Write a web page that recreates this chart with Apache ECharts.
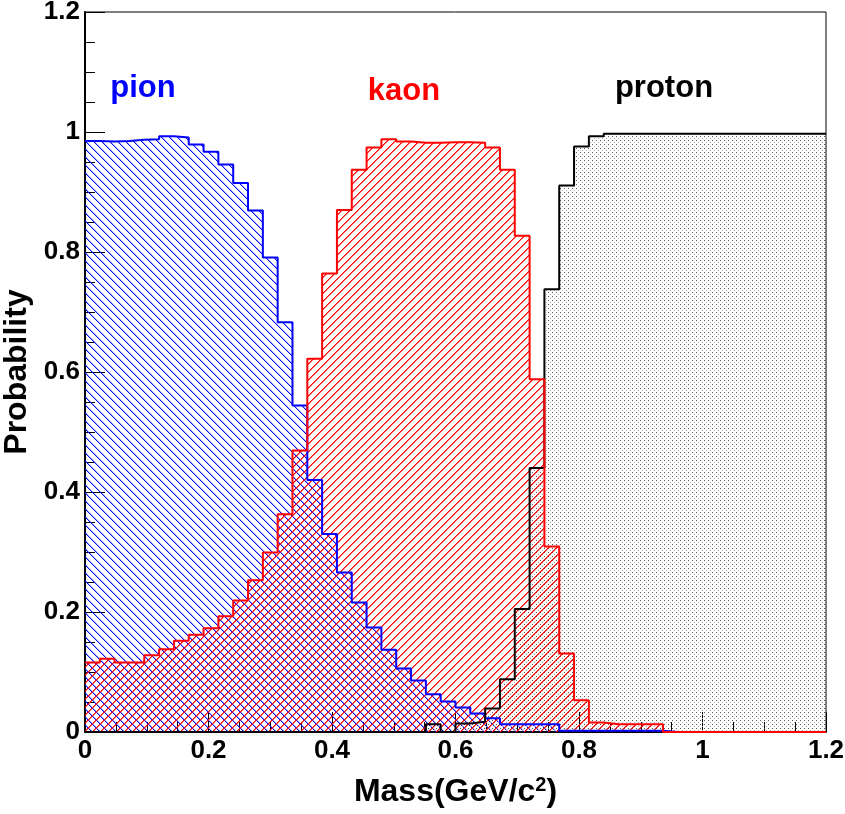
<!DOCTYPE html>
<html>
<head>
<meta charset="utf-8">
<script src="https://cdn.jsdelivr.net/npm/echarts@6/dist/echarts.min.js"></script>
<style>
html,body{margin:0;padding:0;background:#fff;}
#chart{width:845px;height:814px;}
</style>
</head>
<body>
<div id="chart"></div>
<script>
// ---- data ----
const binWidth = 0.024;
const binStarts = [0,0.024,0.048,0.072,0.096,0.12,0.144,0.168,0.192,0.216,0.24,0.264,0.288,0.312,0.336,0.36,0.384,0.408,0.432,0.456,0.48,0.504,0.528,0.552,0.576,0.6,0.624,0.648,0.672,0.696,0.72,0.744,0.768,0.792,0.816,0.84,0.864,0.888,0.912,0.936,0.96,0.984,1.008,1.032,1.056,1.08,1.104,1.128,1.152,1.176];
const pion = [0.985,0.984,0.985,0.987,0.988,0.993,0.991,0.979,0.967,0.946,0.915,0.869,0.791,0.683,0.544,0.420,0.330,0.266,0.216,0.174,0.137,0.106,0.086,0.063,0.051,0.041,0.031,0.023,0.013,0.013,0.013,0.013,0.002,0.002,0.002,0.002,0.002,0.002,0.002,0,0,0,0,0,0,0,0,0,0,0];
const kaon = [0.116,0.122,0.116,0.116,0.128,0.138,0.152,0.162,0.173,0.193,0.219,0.253,0.299,0.363,0.469,0.622,0.764,0.870,0.937,0.974,0.988,0.984,0.982,0.982,0.983,0.983,0.982,0.974,0.937,0.827,0.588,0.309,0.131,0.053,0.016,0.013,0.013,0.013,0.013,0,0,0,0,0,0,0,0,0,0,0];
const proton = [0,0,0,0,0,0,0,0,0,0,0,0,0,0,0,0,0,0,0,0,0,0,0,0.013,0,0.014,0.017,0.039,0.088,0.205,0.440,0.738,0.911,0.976,0.993,0.997,0.997,0.997,0.997,0.997,0.997,0.997,0.997,0.997,0.997,0.997,0.997,0.997,0.997,0.997];
const xTickLabels = ['0','0.2','0.4','0.6','0.8','1','1.2'];
const yTickLabels = ['0','0.2','0.4','0.6','0.8','1','1.2'];
const labels = [
  {text:'pion', color:'#0000ff'},
  {text:'kaon', color:'#ff0000'},
  {text:'proton', color:'#000000'}
];
const xTitle = 'Mass(GeV/c{sup|2})';
const yTitle = 'Probability';

// ---- patterns ----
function hatch(rgb, dir, p, side) {
  const c = document.createElement('canvas');
  c.width = p; c.height = p;
  const g = c.getContext('2d');
  for (let i = 0; i < p; i++) {
    const x = dir === 'back' ? i : p - 1 - i;
    g.fillStyle = 'rgba(' + rgb + ',1)';
    g.fillRect(x, i, 1, 1);
    g.fillStyle = 'rgba(' + rgb + ',' + side + ')';
    g.fillRect((x + 1) % p, i, 1, 1);
  }
  return {image: c, repeat: 'repeat'};
}
function dots() {
  const c = document.createElement('canvas');
  c.width = 4; c.height = 4;
  const g = c.getContext('2d');
  g.fillStyle = '#555';
  g.fillRect(0, 0, 1, 1);
  g.fillStyle = '#aaa';
  g.fillRect(2, 2, 1, 1);
  return {image: c, repeat: 'repeat'};
}

function histData(vals) {
  const d = binStarts.map((x, i) => [x, vals[i]]);
  d.push([binStarts[binStarts.length - 1] + binWidth, vals[vals.length - 1]]);
  return d;
}

const FONT = '"Liberation Sans", Arial, sans-serif';
const chart = echarts.init(document.getElementById('chart'), null, {renderer: 'canvas'});

function histSeries(name, vals, color, fill) {
  return {
    name, type: 'line', step: 'end', data: histData(vals),
    showSymbol: false, symbol: 'none', silent: true,
    lineStyle: {color, width: 2},
    areaStyle: {color: fill, opacity: 1},
    animation: false
  };
}

chart.setOption({
  animation: false,
  backgroundColor: '#fff',
  grid: {left: 85, top: 12, width: 741, height: 720, show: true, borderColor: '#000', borderWidth: 1, outerBoundsMode: 'none'},
  xAxis: {
    type: 'value', min: 0, max: 1.2, interval: 0.2,
    name: xTitle, nameLocation: 'middle', nameGap: 43,
    nameTextStyle: {fontFamily: FONT, fontWeight: 'bold', fontSize: 32, color: '#000',
      rich: {sup: {fontFamily: FONT, fontWeight: 'bold', fontSize: 20, verticalAlign: 'top', padding: [0,0,14,0], color:'#000'}}},
    axisLine: {show: true, onZero: false, lineStyle: {color: '#000', width: 2}},
    axisTick: {show: true, inside: true, length: 20, lineStyle: {color: '#000', width: 1}},
    minorTick: {show: true, splitNumber: 4, length: 10, lineStyle: {color: '#000', width: 1}},
    splitLine: {show: false},
    axisLabel: {fontFamily: FONT, fontWeight: 'bold', fontSize: 26, color: '#000', margin: 6,
      formatter: (v) => xTickLabels[Math.round(v / 0.2)]}
  },
  yAxis: {
    type: 'value', min: 0, max: 1.2, interval: 0.2,
    name: yTitle, nameLocation: 'middle', nameGap: 43,
    nameTextStyle: {fontFamily: FONT, fontWeight: 'bold', fontSize: 32, color: '#000'},
    axisLine: {show: true, onZero: false, lineStyle: {color: '#000', width: 2}},
    axisTick: {show: true, inside: true, length: 20, lineStyle: {color: '#000', width: 1}},
    minorTick: {show: true, splitNumber: 4, length: 10, lineStyle: {color: '#000', width: 1}},
    splitLine: {show: false},
    axisLabel: {fontFamily: FONT, fontWeight: 'bold', fontSize: 26, color: '#000', margin: 5,
      formatter: (v) => yTickLabels[Math.round(v / 0.2)]}
  },
  series: [
    histSeries('pion', pion, '#0000ff', hatch('0,0,255', 'back', 8, 0.35)),
    histSeries('proton', proton, '#000000', dots()),
    histSeries('kaon', kaon, '#ff0000', hatch('255,0,0', 'fwd', 8, 0.6))
  ],
  graphic: [
    {type: 'text', x: 143, y: 88, style: {text: labels[0].text, fill: labels[0].color, font: 'bold 31px ' + FONT, align: 'center', verticalAlign: 'middle'}},
    {type: 'text', x: 404, y: 91, style: {text: labels[1].text, fill: labels[1].color, font: 'bold 31px ' + FONT, align: 'center', verticalAlign: 'middle'}},
    {type: 'text', x: 664, y: 88, style: {text: labels[2].text, fill: labels[2].color, font: 'bold 31px ' + FONT, align: 'center', verticalAlign: 'middle'}}
  ]
});
</script>
</body>
</html>
